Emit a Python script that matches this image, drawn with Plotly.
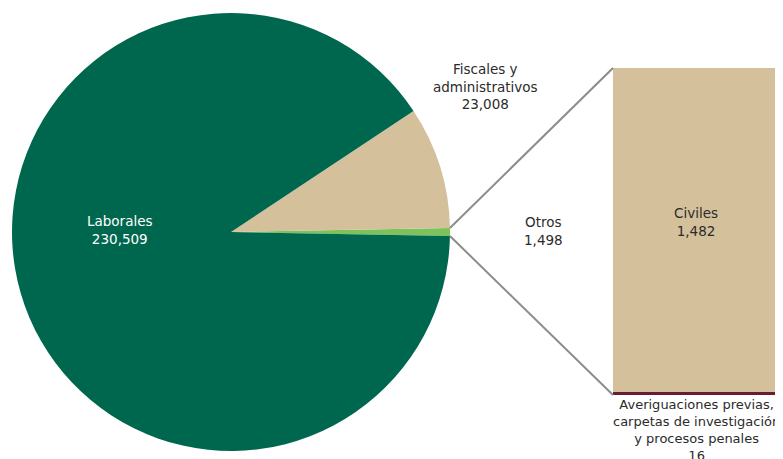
import math
import plotly.graph_objects as go

# Data
pie_labels = ["Otros", "Fiscales y administrativos", "Laborales"]
pie_values = [1498, 23008, 230509]
pie_colors = ["#7CC35C", "#D4C19C", "#00674F"]

bar_labels = ["Averiguaciones previas, carpetas de investigación y procesos penales", "Civiles"]
bar_values = [16, 1482]
bar_colors = ["#691C32", "#D4C19C"]

W, H = 783, 459
OFF = 8  # page body margin
FONT = "DejaVu Sans"
FS = 13.5

# pie geometry (screen pixels, converted to figure pixels)
cx, cy, r = 231 - OFF, 232 - OFF, 219
total = sum(pie_values)
otros_deg = pie_values[0] / total * 360
# counterclockwise: the first slice ends at `rotation`, so center Otros at 3 o'clock
rotation = 90 - otros_deg / 2

fig = go.Figure()
fig.add_trace(go.Pie(
    labels=pie_labels, values=pie_values, sort=False, direction="counterclockwise",
    rotation=rotation, marker=dict(colors=pie_colors, line=dict(width=0)),
    textinfo="none", hoverinfo="label+value", showlegend=False,
    domain=dict(x=[(cx - r) / W, (cx + r) / W], y=[1 - (cy + r) / H, 1 - (cy - r) / H]),
))

bar_x0, bar_x1, bar_y0, bar_y1 = 613 - OFF, 779 - OFF, 68 - OFF, 395 - OFF
for lab, val, col in zip(bar_labels, bar_values, bar_colors):
    fig.add_trace(go.Bar(x=["Otros"], y=[val], name=lab, marker=dict(color=col, line=dict(width=0)),
                         width=1, showlegend=False, hoverinfo="name+y"))

fig.update_layout(
    width=W, height=H, margin=dict(l=0, r=0, t=0, b=0),
    paper_bgcolor="white", plot_bgcolor="white", barmode="stack",
    xaxis=dict(domain=[bar_x0 / W, bar_x1 / W], range=[-0.5, 0.5], visible=False),
    yaxis=dict(domain=[1 - bar_y1 / H, 1 - bar_y0 / H], range=[0, sum(bar_values)], visible=False),
    font=dict(family=FONT, size=FS, color="#2B2B2B"),
)

# connector lines from the Otros slice edges to the bar corners
half = math.radians(otros_deg / 2)
px = cx + r * math.cos(half)
py_top = cy - r * math.sin(half)
py_bot = cy + r * math.sin(half)
for (y0, y1) in [(py_top, bar_y0), (py_bot, bar_y1)]:
    fig.add_shape(type="line", xref="paper", yref="paper",
                  x0=px / W, y0=1 - y0 / H, x1=bar_x0 / W, y1=1 - y1 / H,
                  line=dict(color="#8C8C8C", width=2))

def ann(text, x, y, color="#2B2B2B", size=FS):
    fig.add_annotation(text=text, x=(x - OFF) / W, y=1 - (y - OFF) / H, xref="paper", yref="paper",
                       showarrow=False, xanchor="center", yanchor="middle",
                       font=dict(family=FONT, size=size, color=color), align="center")

fmt = lambda v: f"{v:,}"
ann(f"Laborales<br>{fmt(pie_values[2])}", 120, 230, "white")
ann(f"Fiscales y<br>administrativos<br>{fmt(pie_values[1])}", 485, 86)
ann(f"Otros<br>{fmt(pie_values[0])}", 543, 231)
ann(f"Civiles<br>{fmt(bar_values[1])}", 696, 222)
ann(f"Averiguaciones previas,<br>carpetas de investigación<br>y procesos penales<br>{fmt(bar_values[0])}",
    696, 430, size=13)

fig.write_html("out.html")
